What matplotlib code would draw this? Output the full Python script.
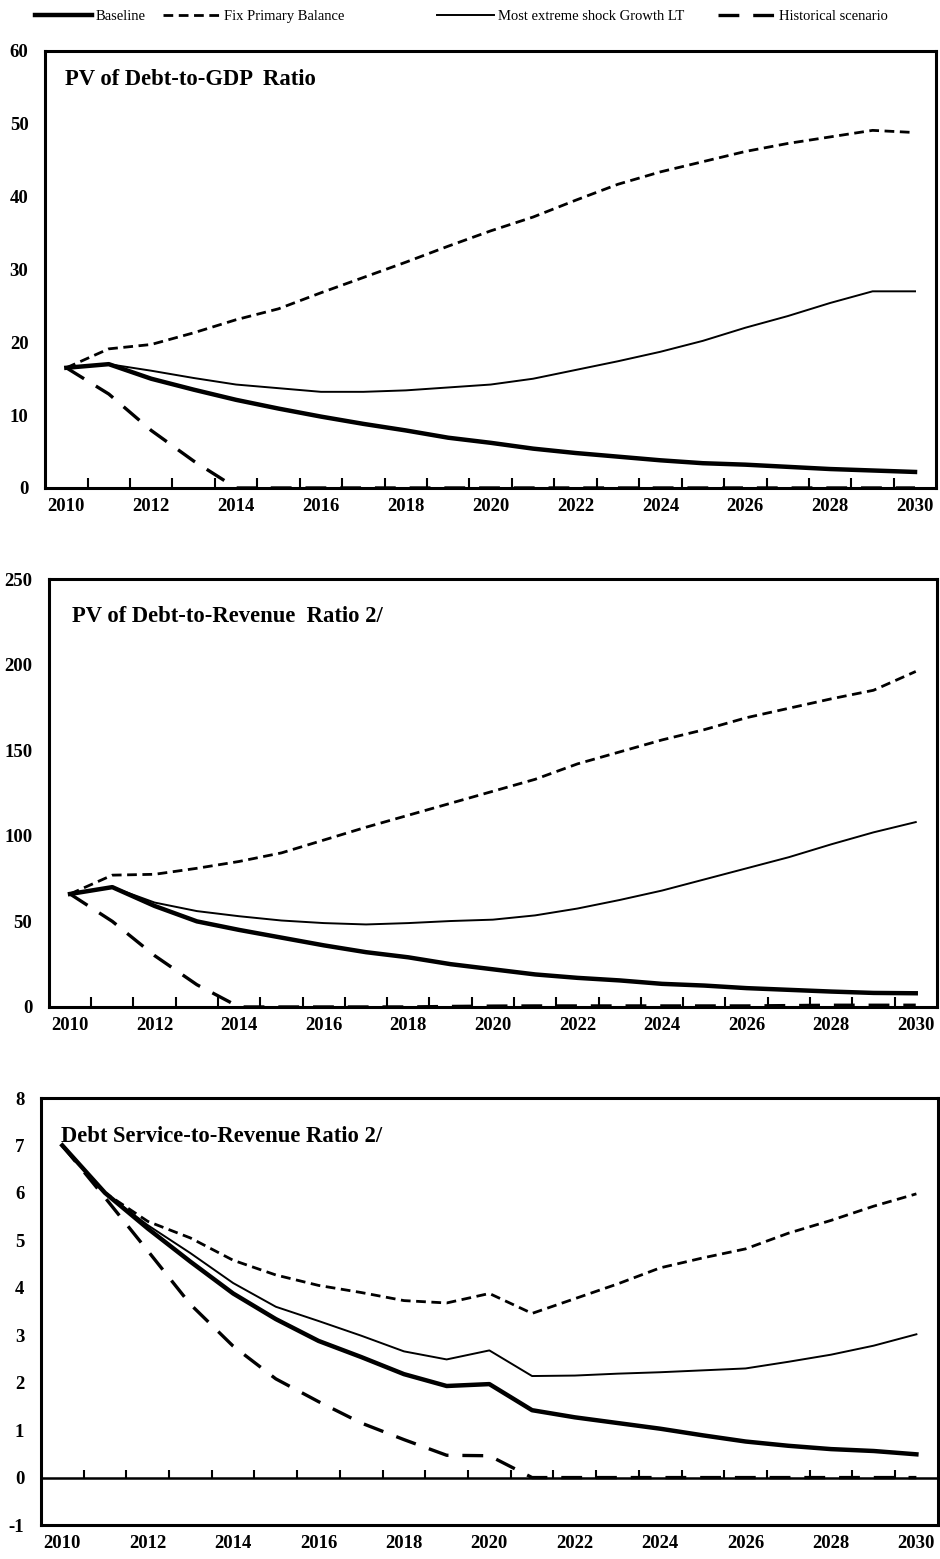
import matplotlib
matplotlib.use("Agg")
import matplotlib.pyplot as plt
import numpy as np

plt.rcParams['font.family'] = ['Liberation Serif', 'DejaVu Serif']
plt.rcParams['lines.scale_dashes'] = False

years = list(range(2010, 2031))

# PV of debt-to-GDP ratio
gdp_baseline = [16.5, 17.0, 15.0, 13.5, 12.1, 10.9, 9.8, 8.8, 7.9, 6.9, 6.2,
                5.4, 4.8, 4.3, 3.8, 3.4, 3.2, 2.9, 2.6, 2.4, 2.2]
gdp_fixpb = [16.5, 19.1, 19.7, 21.3, 23.1, 24.6, 26.8, 28.9, 31.0, 33.2, 35.3,
             37.2, 39.5, 41.7, 43.4, 44.8, 46.2, 47.3, 48.2, 49.1, 48.8]
gdp_shock = [16.5, 17.0, 16.1, 15.1, 14.2, 13.7, 13.2, 13.2, 13.4, 13.8, 14.2,
             15.0, 16.2, 17.4, 18.7, 20.2, 22.0, 23.6, 25.4, 27.0, 27.0]
gdp_hist = [16.5, 12.9, 7.9, 3.7, 0.0, 0.0, 0.0, 0.0, 0.0, 0.0, 0.0,
            0.0, 0.0, 0.0, 0.0, 0.0, 0.0, 0.0, 0.0, 0.0, 0.0]

# PV of debt-to-revenue ratio
rev_baseline = [66, 70, 59, 50, 45, 40.5, 36, 32, 29, 25, 22,
                19, 17, 15.5, 13.5, 12.5, 11, 10, 9, 8.2, 8]
rev_fixpb = [66, 77, 77.5, 81, 85, 90, 97.5, 105, 112, 119, 126,
             133, 142, 149, 156, 162, 169, 174.5, 180, 185, 196]
rev_shock = [66, 70, 61, 56, 53, 50.5, 49, 48.2, 49, 50.2, 51,
             53.5, 57.5, 62.5, 68, 74.5, 81, 87.5, 95, 102, 108]
rev_hist = [66, 50, 30, 13, 0, 0, 0, 0, 0, 0.3, 0.5,
            0.6, 0.6, 0.6, 0.6, 0.6, 0.6, 0.8, 1.0, 1.0, 1.0]

# Debt service-to-revenue ratio
ds_baseline = [7.0, 6.0, 5.25, 4.55, 3.88, 3.34, 2.88, 2.54, 2.18, 1.93, 1.97,
               1.42, 1.27, 1.15, 1.03, 0.89, 0.76, 0.67, 0.6, 0.56, 0.49]
ds_fixpb = [7.0, 6.0, 5.4, 5.05, 4.58, 4.27, 4.05, 3.9, 3.73, 3.68, 3.88,
            3.46, 3.77, 4.08, 4.42, 4.63, 4.82, 5.15, 5.42, 5.72, 5.98]
ds_shock = [7.0, 6.0, 5.32, 4.73, 4.1, 3.6, 3.3, 2.99, 2.66, 2.49, 2.68,
            2.14, 2.15, 2.19, 2.22, 2.26, 2.3, 2.44, 2.59, 2.78, 3.02]
ds_hist = [7.0, 5.9, 4.78, 3.65, 2.77, 2.08, 1.6, 1.15, 0.8, 0.47, 0.46,
           0.0, 0.0, 0.0, 0.0, 0.0, 0.0, 0.0, 0.0, 0.0, 0.0]

series_names = ['Baseline', 'Fix Primary Balance', 'Most extreme shock Growth LT', 'Historical scenario']
styles = [dict(lw=3.2, ls='-'),
          dict(lw=2.0, dashes=(7, 4)),
          dict(lw=1.4, ls='-'),
          dict(lw=2.4, dashes=(15, 10))]
legend_x = [0.037, 0.173, 0.465, 0.764]

panels = [
    dict(rect=[0.048, 0.687, 0.948, 0.2803], ylim=(0, 60), yticks=np.arange(0, 61, 10),
         title='PV of Debt-to-GDP  Ratio', tpos=(0.022, 0.934),
         data=[gdp_baseline, gdp_fixpb, gdp_shock, gdp_hist]),
    dict(rect=[0.052, 0.3541, 0.9447, 0.2745], ylim=(0, 250), yticks=np.arange(0, 251, 50),
         title='PV of Debt-to-Revenue  Ratio 2/', tpos=(0.026, 0.913),
         data=[rev_baseline, rev_fixpb, rev_shock, rev_hist]),
    dict(rect=[0.0436, 0.0218, 0.954, 0.2739], ylim=(-1, 8), yticks=np.arange(-1, 9, 1),
         title='Debt Service-to-Revenue Ratio 2/', tpos=(0.022, 0.909),
         data=[ds_baseline, ds_fixpb, ds_shock, ds_hist]),
]

fig = plt.figure(figsize=(9.4, 15.59), dpi=100)
x = np.arange(len(years))
boundaries = x[:-1] + 0.5

handles = []
for k, p in enumerate(panels):
    ax = fig.add_axes(p['rect'])
    for vals, name, st in zip(p['data'], series_names, styles):
        ln, = ax.plot(x, vals, color='black', label=name, solid_joinstyle='round', **st)
        if k == 0:
            handles.append(ln)
    ax.set_xlim(-0.5, len(years) - 0.5)
    ax.set_ylim(*p['ylim'])
    ax.set_yticks(p['yticks'])
    ax.set_yticklabels([str(v) for v in p['yticks']])
    ax.set_xticks(x[::2])
    ax.set_xticklabels([str(y) for y in years[::2]])
    for s in ax.spines.values():
        s.set_linewidth(2.2)
    ax.tick_params(axis='y', length=0, pad=12, labelsize=13.5)
    ax.tick_params(axis='x', which='major', length=0, pad=7, labelsize=13.5)
    for lab in ax.get_xticklabels() + ax.get_yticklabels():
        lab.set_fontweight('bold')
    if p['ylim'][0] < 0:
        # x axis drawn at zero inside the frame
        ax.axhline(0, color='black', lw=1.8)
        ax.vlines(boundaries, 0, 0.15, color='black', lw=1.5)
    else:
        ax.set_xticks(boundaries, minor=True)
        ax.tick_params(axis='x', which='minor', direction='in', length=7, width=1.5)
    ax.text(p['tpos'][0], p['tpos'][1], p['title'], transform=ax.transAxes,
            fontsize=16.3, fontweight='bold', va='center', ha='left')

# one legend per entry, spaced as in the source
for h, name, lx in zip(handles, series_names, legend_x):
    fig.legend([h], [name], loc='center left', bbox_to_anchor=(lx, 0.9895),
               frameon=False, fontsize=10.5, handlelength=3.9, handletextpad=0.3,
               borderpad=0, borderaxespad=0)

fig.savefig('out.png', dpi=100)
